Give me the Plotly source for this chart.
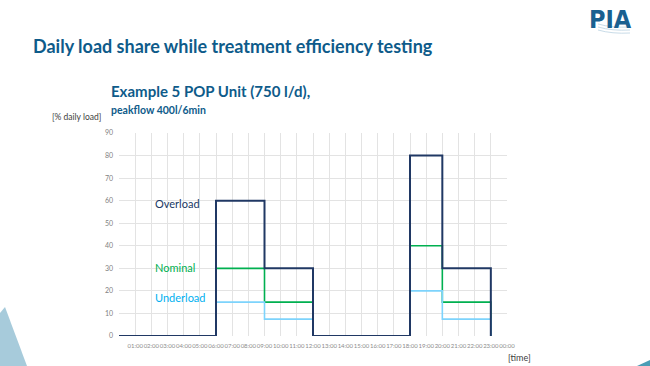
import plotly.graph_objects as go

# ---- data ----
step_hours = [0, 6, 9, 12, 18, 20, 23]
overload = [0, 60, 30, 0, 80, 30, 0]
nominal = [0, 30, 15, 0, 40, 15, 0]
underload = [0, 15, 7.5, 0, 20, 7.5, 0]
tick_hours = list(range(0, 25))
tick_labels = [""] + [f"{h:02d}:00" for h in range(1, 24)] + ["00:00"]
y_ticks = list(range(0, 91, 10))

W, H = 650, 366
L, R, T, B = 119, 507, 133, 336
FONT = "Lato"
TITLE_C = "#0E5B8A"

def px(x):
    return (x - L) / (R - L)

def py(y):
    return (B - y) / (B - T)

fig = go.Figure()
fig.add_trace(go.Scatter(x=step_hours, y=nominal, mode="lines", line_shape="hv",
                         line=dict(color="#00B050", width=1.6), hoverinfo="skip"))
fig.add_trace(go.Scatter(x=step_hours, y=underload, mode="lines", line_shape="hv",
                         line=dict(color="#7DD3FC", width=1.6), hoverinfo="skip"))
fig.add_trace(go.Scatter(x=step_hours, y=overload, mode="lines", line_shape="hv",
                         line=dict(color="#203864", width=2), hoverinfo="skip"))

ann = []
def text(x, y, s, size, color, xanchor="left", yanchor="middle", bold=False, font=FONT):
    ann.append(dict(x=px(x), y=py(y), xref="paper", yref="paper", text=(f"<b>{s}</b>" if bold else s),
                    showarrow=False, xanchor=xanchor, yanchor=yanchor,
                    font=dict(family=font, size=size, color=color)))

text(31, 46, "Daily load share while treatment efficiency testing", 18, TITLE_C, bold=True)
text(109, 91, "Example 5 POP Unit (750 l/d),", 15, TITLE_C, bold=True)
text(109, 110, "peakflow 400l/6min", 10.5, TITLE_C, bold=True)
text(50, 117, "[% daily load]", 8.5, "#404040")
text(506, 357, "[time]", 9, "#404040")
text(153, 203, "Overload", 11, "#203864")
text(153, 267, "Nominal", 11, "#00B050")
text(153, 297, "Underload", 11, "#00B0F0")
text(610, 19, "PIA", 25, "#1A6090", xanchor="center", bold=True,
     font="DejaVu Sans Condensed, Liberation Sans, sans-serif")

shapes = [
    dict(type="path", xref="paper", yref="paper",
         path=f"M {px(0)},{py(366)} L {px(0)},{py(313)} L {px(5)},{py(307)} L {px(27)},{py(366)} Z",
         fillcolor="#A7CBDB", line=dict(width=0), layer="below"),
    dict(type="path", xref="paper", yref="paper",
         path=f"M {px(637)},{py(366)} L {px(650)},{py(360)} L {px(650)},{py(366)} Z",
         fillcolor="#4A9DB5", line=dict(width=0), layer="below"),
]
# faint swoosh lines of the logo
for y0, y1 in [(24, 27), (27, 30), (30, 33)]:
    shapes.append(dict(type="path", xref="paper", yref="paper",
                       path=f"M {px(598)},{py(y0)} Q {px(612)},{py(y0+4)} {px(630)},{py(y1)}",
                       line=dict(color="#C9DCE8", width=1), layer="below"))

fig.update_layout(
    width=W, height=H, autosize=False,
    margin=dict(l=L, r=W - R, t=T, b=H - B, pad=0),
    paper_bgcolor="white", plot_bgcolor="white",
    showlegend=False,
    annotations=ann,
    xaxis=dict(range=[0, 24], tickvals=tick_hours, ticktext=tick_labels, showgrid=True,
               gridcolor="#E3E3E3", gridwidth=1, zeroline=False, showline=False,
               ticks="", tickangle=0, tickfont=dict(family=FONT, size=6, color="#8C8C8C"),
               ticklabelstandoff=5, fixedrange=True),
    yaxis=dict(range=[0, 90], tickvals=y_ticks, showgrid=True, gridcolor="#E3E3E3",
               gridwidth=1, zeroline=False, showline=False, ticks="",
               tickfont=dict(family=FONT, size=7, color="#7F7F7F"), ticklabelstandoff=5,
               fixedrange=True),
    shapes=shapes,
)

fig.write_html("out.html", config={"displayModeBar": False},
               post_script="document.body.style.margin='0';document.body.style.padding='0';")
